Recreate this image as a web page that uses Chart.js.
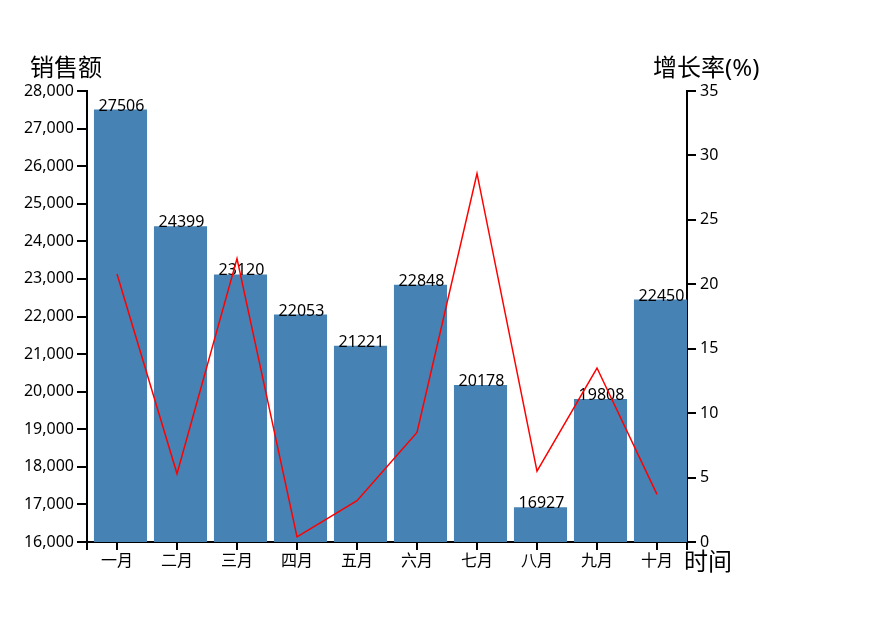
<!DOCTYPE html>
<html>
<head>
<meta charset="utf-8">
<script src="https://cdn.jsdelivr.net/npm/chart.js@4/dist/chart.umd.min.js"></script>
<style>
html,body{margin:0;padding:0;background:#fff;}
#wrap{width:888px;height:632px;position:relative;}
</style>
</head>
<body>
<div id="wrap"><canvas id="c" width="888" height="632"></canvas></div>
<script>
const categories = ['一月','二月','三月','四月','五月','六月','七月','八月','九月','十月'];
const sales = [27506, 24399, 23120, 22053, 21221, 22848, 20178, 16927, 19808, 22450];
const growth = [20.8, 5.3, 22.0, 0.4, 3.2, 8.5, 28.6, 5.5, 13.5, 3.7];
const leftTitle = '销售额';
const rightTitle = '增长率(%)';
const xTitle = '时间';

const FONT = '"Noto Sans", "Noto Sans CJK SC", sans-serif';
const BAR_SHIFT = 3.5;

const extras = {
  id: 'extras',
  beforeDatasetDraw(chart, args) {
    if (args.index === 1) {
      chart.ctx.save();
      chart.ctx.translate(BAR_SHIFT, 0);
    }
  },
  afterDatasetDraw(chart, args) {
    if (args.index === 1) {
      chart.ctx.restore();
      const ctx = chart.ctx;
      const meta = chart.getDatasetMeta(1);
      ctx.save();
      ctx.fillStyle = '#000';
      ctx.font = '16px ' + FONT;
      ctx.textAlign = 'center';
      ctx.textBaseline = 'alphabetic';
      meta.data.forEach((bar, i) => {
        ctx.fillText(String(sales[i]), bar.x + BAR_SHIFT + 1, bar.y + 1);
      });
      ctx.restore();
    }
  },
  afterDraw(chart) {
    const ctx = chart.ctx;
    const a = chart.chartArea;
    ctx.save();
    ctx.strokeStyle = '#000';
    ctx.lineWidth = 2;
    ctx.beginPath();
    ctx.moveTo(a.left, a.bottom); ctx.lineTo(a.left, a.bottom + 8);
    ctx.moveTo(a.right, a.bottom); ctx.lineTo(a.right, a.bottom + 8);
    ctx.stroke();
    ctx.fillStyle = '#000';
    ctx.font = '24px ' + FONT;
    ctx.textBaseline = 'middle';
    ctx.textAlign = 'left';
    ctx.fillText(leftTitle, a.left - 57, a.top - 22);
    ctx.fillText(rightTitle, a.right - 34, a.top - 22);
    ctx.fillText(xTitle, a.right - 3, a.bottom + 21);
    ctx.restore();
  }
};

new Chart(document.getElementById('c'), {
  data: {
    labels: categories,
    datasets: [
      {
        type: 'line',
        data: growth,
        yAxisID: 'y1',
        borderColor: 'red',
        borderWidth: 1.5,
        pointRadius: 0,
        tension: 0,
        fill: false
      },
      {
        type: 'bar',
        data: sales,
        yAxisID: 'y',
        backgroundColor: '#4682b4',
        categoryPercentage: 1,
        barPercentage: 0.885
      }
    ]
  },
  options: {
    responsive: false,
    animation: false,
    devicePixelRatio: 1,
    layout: { padding: { top: 91, left: 0, right: 0, bottom: 0 } },
    plugins: { legend: { display: false }, tooltip: { enabled: false } },
    scales: {
      x: {
        offset: true,
        grid: { offset: false, drawOnChartArea: false, color: '#000', lineWidth: 2, tickLength: 8 },
        border: { display: true, color: '#000', width: 2 },
        ticks: { color: '#000', font: { size: 16, family: FONT }, padding: 2, maxRotation: 0 },
        afterFit(s) { s.height = 90; }
      },
      y: {
        position: 'left',
        min: 16000, max: 28000,
        grid: { drawOnChartArea: false, color: '#000', lineWidth: 2, tickLength: 10 },
        border: { display: true, color: '#000', width: 2 },
        ticks: { stepSize: 1000, color: '#000', font: { size: 16, family: FONT }, padding: 3,
                 callback: v => v.toLocaleString('en-US') },
        afterFit(s) { s.width = 87; }
      },
      y1: {
        position: 'right',
        min: 0, max: 35,
        grid: { drawOnChartArea: false, color: '#000', lineWidth: 2, tickLength: 9 },
        border: { display: true, color: '#000', width: 2 },
        ticks: { stepSize: 5, color: '#000', font: { size: 16, family: FONT }, padding: 4 },
        afterFit(s) { s.width = 201; }
      }
    }
  },
  plugins: [extras]
});
</script>
</body>
</html>
